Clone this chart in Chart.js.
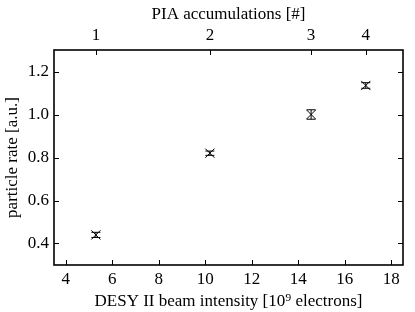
<!DOCTYPE html>
<html lang="en">
<head>
<meta charset="utf-8" />
<title>Particle rate vs DESY II beam intensity</title>
<script src="https://cdn.jsdelivr.net/npm/chart.js"></script>
<style>
  html, body { margin: 0; padding: 0; background: #fff; }
  #wrap { width: 415px; height: 312px; }
</style>
</head>
<body>
<div id="wrap"><canvas id="chart"></canvas></div>
<script>
// values
const beamIntensity = [5.3, 10.2, 14.55, 16.9];
const particleRate = [0.44, 0.82, 1.0, 1.135];
const rateError = [0.012, 0.01, 0.022, 0.013];
const piaLabels = ['1', '2', '3', '4'];
const xTicks = [4, 6, 8, 10, 12, 14, 16, 18];
const yTicks = [0.4, 0.6, 0.8, 1.0, 1.2];

const serif = { family: 'Liberation Serif', size: 17 };

// error bars + inward ticks + frame, matplotlib style
const extras = {
    id: 'extras',
    afterDatasetsDraw(chart) {
        const ctx = chart.ctx;
        const x = chart.scales.x, y = chart.scales.y, x2 = chart.scales.x2;
        const a = chart.chartArea;
        ctx.save();
        ctx.strokeStyle = '#000';
        ctx.lineWidth = 1;
        beamIntensity.forEach((v, i) => {
            const px = x.getPixelForValue(v);
            const lo = y.getPixelForValue(particleRate[i] - rateError[i]);
            const hi = y.getPixelForValue(particleRate[i] + rateError[i]);
            ctx.beginPath();
            ctx.moveTo(px, lo); ctx.lineTo(px, hi);
            ctx.moveTo(px - 4.5, lo); ctx.lineTo(px + 4.5, lo);
            ctx.moveTo(px - 4.5, hi); ctx.lineTo(px + 4.5, hi);
            ctx.stroke();
        });

        const tl = 5;
        ctx.beginPath();
        y.ticks.forEach(t => {
            const py = Math.round(y.getPixelForValue(t.value)) + 0.5;
            ctx.moveTo(a.left, py); ctx.lineTo(a.left + tl, py);
            ctx.moveTo(a.right, py); ctx.lineTo(a.right - tl, py);
        });
        x.ticks.forEach(t => {
            const px = Math.round(x.getPixelForValue(t.value)) + 0.5;
            ctx.moveTo(px, a.bottom); ctx.lineTo(px, a.bottom - tl);
        });
        x2.ticks.forEach(t => {
            const px = Math.round(x2.getPixelForValue(t.value)) + 0.5;
            ctx.moveTo(px, a.top); ctx.lineTo(px, a.top + tl);
        });
        ctx.stroke();

        ctx.lineWidth = 1.6;
        ctx.strokeRect(a.left, a.top, a.right - a.left, a.bottom - a.top);
        ctx.restore();
    }
};

new Chart(document.getElementById('chart'), {
    type: 'scatter',
    data: {
        datasets: [{
            data: beamIntensity.map((v, i) => ({ x: v, y: particleRate[i] })),
            pointStyle: 'crossRot',
            radius: 6.5,
            borderColor: '#000',
            borderWidth: 1,
            backgroundColor: '#000'
        }]
    },
    options: {
        responsive: true,
        maintainAspectRatio: false,
        animation: false,
        events: [],
        layout: { padding: { right: 12 } },
        plugins: { legend: { display: false }, tooltip: { enabled: false } },
        scales: {
            x: {
                type: 'linear',
                position: 'bottom',
                min: 3.5, max: 18.5,
                afterBuildTicks: s => { s.ticks = xTicks.map(v => ({ value: v })); },
                afterFit: s => { s.height = 47; },
                grid: { display: false, drawTicks: false },
                border: { display: false },
                ticks: { color: '#000', font: serif, padding: 4, maxRotation: 0, autoSkip: false },
                title: {
                    display: true, text: 'DESY II beam intensity [10⁹ electrons]',
                    color: '#000', font: serif, padding: { top: 3, bottom: 0 }
                }
            },
            x2: {
                type: 'linear',
                position: 'top',
                min: 3.5, max: 18.5,
                afterBuildTicks: s => { s.ticks = beamIntensity.map(v => ({ value: v })); },
                afterFit: s => { s.height = 50; },
                grid: { display: false, drawTicks: false },
                border: { display: false },
                ticks: {
                    color: '#000', font: serif, padding: 4, maxRotation: 0, autoSkip: false,
                    callback: (v, i) => piaLabels[i]
                },
                title: {
                    display: true, text: 'PIA accumulations [#]',
                    color: '#000', font: serif, padding: { top: 4, bottom: 0 }
                }
            },
            y: {
                type: 'linear',
                position: 'left',
                min: 0.3, max: 1.3,
                afterBuildTicks: s => { s.ticks = yTicks.map(v => ({ value: v })); },
                afterFit: s => { s.width = 54; },
                grid: { display: false, drawTicks: false },
                border: { display: false },
                ticks: { color: '#000', font: serif, padding: 5, callback: v => v.toFixed(1) },
                title: {
                    display: true, text: 'particle rate [a.u.]',
                    color: '#000', font: serif, padding: { top: 2, bottom: 0 }
                }
            }
        }
    },
    plugins: [extras]
});
</script>
</body>
</html>
